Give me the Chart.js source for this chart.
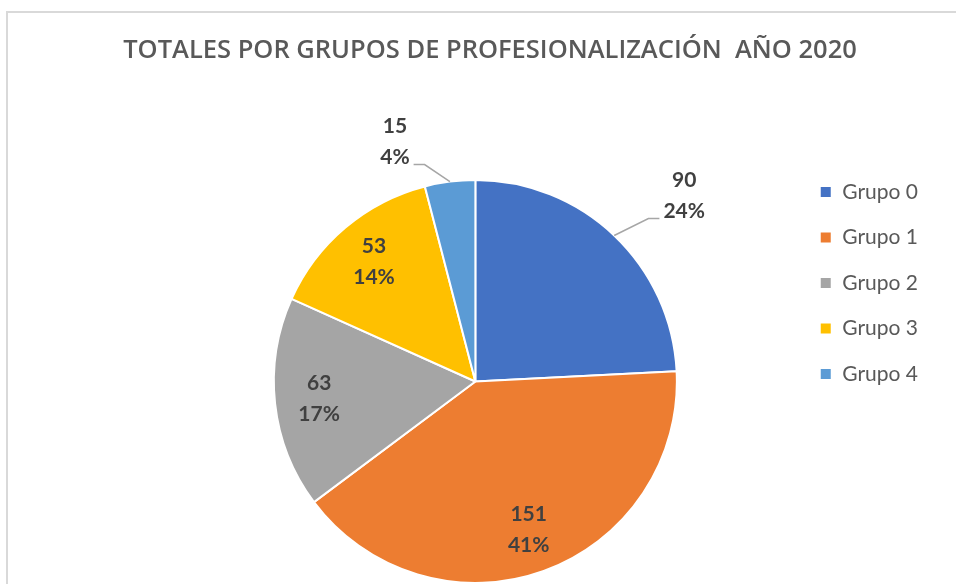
<!DOCTYPE html>
<html>
<head>
<meta charset="utf-8">
<script src="https://cdn.jsdelivr.net/npm/chart.js"></script>
<style>
  html, body { margin: 0; padding: 0; background: #fff; overflow: hidden; }
  #marco { position: absolute; left: 6px; top: 11px; width: 1000px; height: 700px; border: 2px solid #d9d9d9; box-sizing: border-box; }
  #caja { position: absolute; left: 0; top: 0; width: 956px; height: 584px; }
</style>
</head>
<body>
<div id="marco"></div>
<div id="caja"><canvas id="pie-chart"></canvas></div>
<script>
const grupos = ["Grupo 0", "Grupo 1", "Grupo 2", "Grupo 3", "Grupo 4"];
const totales = [90, 151, 63, 53, 15];
const colores = ["#4472C4", "#ED7D31", "#A5A5A5", "#FFC000", "#5B9BD5"];

// etiquetas fuera del pastel: desplazamiento desde el borde del sector
const etiquetaFuera = { 0: [70, -40], 4: [-55, -40] };

const fuente = "Lato, 'Noto Sans', sans-serif";

// el título ocupa todo el ancho del marco, no solo el área del pastel
const anchoTitulo = {
  id: 'anchoTitulo',
  afterLayout(chart) {
    const t = chart.titleBlock;
    if (t) { t.left = 24; t.right = chart.width; t.width = t.right - t.left; }
  }
};

const etiquetas = {
  id: 'etiquetas',
  afterDatasetsDraw(chart) {
    const ctx = chart.ctx;
    const meta = chart.getDatasetMeta(0);
    const suma = totales.reduce((a, b) => a + b, 0);
    ctx.save();
    ctx.font = "bold 21px " + fuente;
    ctx.fillStyle = "#404040";
    ctx.textAlign = "center";
    ctx.textBaseline = "middle";
    meta.data.forEach((arc, i) => {
      const p = arc.getProps(['x', 'y', 'startAngle', 'endAngle', 'outerRadius'], true);
      const mid = (p.startAngle + p.endAngle) / 2;
      const pct = Math.round(totales[i] / suma * 100) + "%";
      let lx, ly;
      const off = etiquetaFuera[i];
      if (off) {
        const ex = p.x + Math.cos(mid) * p.outerRadius;
        const ey = p.y + Math.sin(mid) * p.outerRadius;
        lx = ex + off[0];
        ly = ey + off[1];
        const w = ctx.measureText(pct).width;
        const lado = off[0] > 0 ? -1 : 1;
        const finX = lx + lado * (w / 2 + 4);
        const finY = ly + 23;
        ctx.beginPath();
        ctx.strokeStyle = "#a6a6a6";
        ctx.lineWidth = 1.5;
        ctx.moveTo(ex, ey);
        ctx.lineTo(finX + lado * 11, finY);
        ctx.lineTo(finX, finY);
        ctx.stroke();
      } else {
        lx = p.x + Math.cos(mid) * p.outerRadius * 0.78;
        ly = p.y + Math.sin(mid) * p.outerRadius * 0.78;
      }
      ctx.fillText(String(totales[i]), lx, ly - 15);
      ctx.fillText(pct, lx, ly + 16);
    });
    ctx.restore();
  }
};

new Chart(document.getElementById("pie-chart"), {
  type: 'pie',
  data: {
    labels: grupos,
    datasets: [{
      data: totales,
      backgroundColor: colores,
      borderColor: "#ffffff",
      borderWidth: 2
    }]
  },
  options: {
    responsive: true,
    maintainAspectRatio: false,
    animation: false,
    layout: { padding: { left: 155.5, right: 28, top: 0, bottom: -2 } },
    plugins: {
      tooltip: { enabled: false },
      title: {
        display: true,
        fullSize: false,
        text: "TOTALES POR GRUPOS DE PROFESIONALIZACIÓN  AÑO 2020",
        color: "#595959",
        font: { family: "'Open Sans', sans-serif", size: 25.5, weight: '600' },
        padding: { top: 35.7, bottom: 112.7 }
      },
      legend: {
        position: 'right',
        align: 'start',
        title: { display: true, text: '', padding: { top: 142.6, bottom: 0 } },
        labels: {
          boxWidth: 12,
          boxHeight: 12,
          padding: 24.5,
          color: "#595959",
          font: { family: fuente, size: 21 }
        }
      }
    }
  },
  plugins: [anchoTitulo, etiquetas]
});
</script>
</body>
</html>
